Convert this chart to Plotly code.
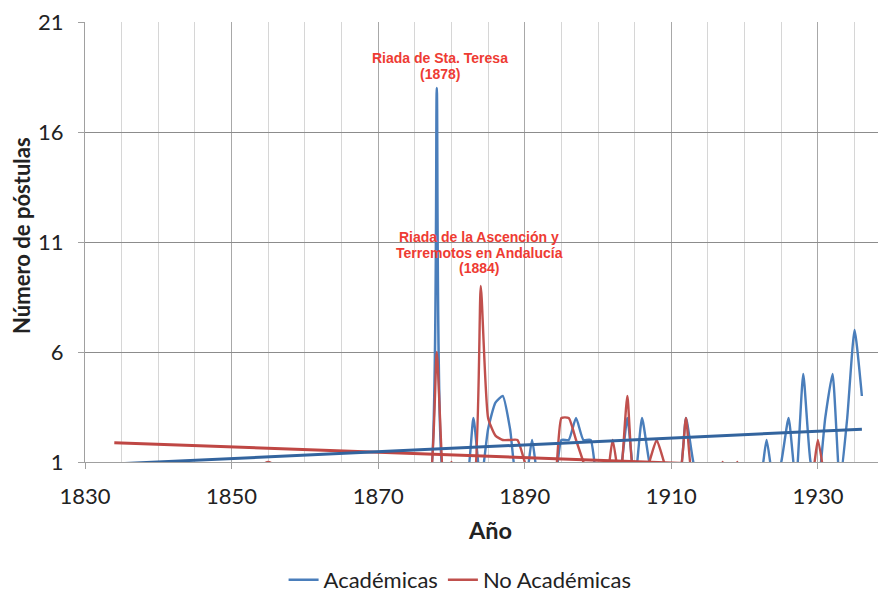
import plotly.graph_objects as go

# ---------------- data ----------------
acad_years = list(range(1876, 1937))
acad_values = [
    0, 0, 18, 0, 0, 0, 0, 3, 0, 2.5,      # 1876-1885
    3.7, 4, 2.5, 0, 0, 2, 0, 0, 0, 2,      # 1886-1895
    2, 3, 2, 2, 0, 0, 0, 0.5, 3, 0,        # 1896-1905
    3, 1, 0, 0, 0, 0, 3, 1, 0, 0,          # 1906-1915
    0, 0, 0, 0, 0, 0, 0, 2, 0, 1,          # 1916-1925
    3, 0, 5, 1, 0, 3, 5, 0, 3, 7,          # 1926-1935
    4,                                     # 1936
]

noacad_years = [1834, 1850, 1855, 1860] + list(range(1876, 1932))
noacad_values = [
    0, 0, 1, 0,
    0, 0, 6, 0, 1, 0, 0, 0, 9, 3,          # 1876-1885
    2.2, 2, 2, 2, 1, 0, 0, 0, 0, 3,        # 1886-1895
    3, 2, 1, 0, 0, 0, 2, 0, 4, 0,          # 1896-1905
    0, 1, 2, 1, 0, 0, 3, 0, 0, 0,          # 1906-1915
    0, 1, 0, 1, 0, 0, 0, 0, 0, 0,          # 1916-1925
    0, 0, 0, 0, 2, 0,                      # 1926-1931
]

# linear trendlines (end values)
acad_trend_years = [1834, 1936]
acad_trend_values = [0.91, 2.49]
noacad_trend_years = [1834, 1931]
noacad_trend_values = [1.88, 0.70]

x_ticks = [1830, 1850, 1870, 1890, 1910, 1930]
y_ticks = [1, 6, 11, 16, 21]

label_1878 = ["Riada de Sta. Teresa", "(1878)"]
label_1884 = ["Riada de la Ascención y", "Terremotos en Andalucía", "(1884)"]

FONT = "Lato"
TXT = "#222222"
BLUE = "#4a7ebb"
RED = "#c0504d"
ANN_RED = "#ee3b33"
SMOOTH = 0.5

fig = go.Figure()
fig.add_trace(go.Scatter(
    x=acad_years, y=acad_values, mode="lines", name="Académicas",
    line=dict(color=BLUE, width=2.4, shape="spline", smoothing=SMOOTH)))
fig.add_trace(go.Scatter(
    x=noacad_years, y=noacad_values, mode="lines", name="No Académicas",
    line=dict(color=RED, width=2.4, shape="spline", smoothing=SMOOTH)))
fig.add_trace(go.Scatter(
    x=noacad_trend_years, y=noacad_trend_values, mode="lines", showlegend=False,
    line=dict(color="#bf4744", width=3)))
fig.add_trace(go.Scatter(
    x=acad_trend_years, y=acad_trend_values, mode="lines", showlegend=False,
    line=dict(color="#33649e", width=3)))

fig.update_layout(
    width=881, height=592,
    margin=dict(l=85, r=3, t=22, b=130),
    paper_bgcolor="white", plot_bgcolor="white",
    font=dict(family=FONT, size=22, color=TXT),
    showlegend=True,
    legend=dict(orientation="h", x=0.473, xanchor="center",
                yref="container", y=12 / 592, yanchor="middle",
                font=dict(size=22, family=FONT, color=TXT),
                itemwidth=30, tracegroupgap=0),
)

fig.update_xaxes(
    range=[1830, 1938.2], tickvals=x_ticks, ticktext=[str(v) for v in x_ticks],
    showgrid=True, gridcolor="#a8a8a8", gridwidth=1,
    minor=dict(dtick=5, tick0=1830, showgrid=True, gridcolor="#d6d6d6", gridwidth=1),
    showline=True, linecolor="#a0a0a0", linewidth=1,
    ticks="outside", ticklen=6, tickcolor="#a0a0a0",
    ticklabelstandoff=9,
    tickfont=dict(size=22, family=FONT, color=TXT),
    zeroline=False,
)
fig.update_yaxes(
    range=[1, 21], tickvals=y_ticks, ticktext=[str(v) for v in y_ticks],
    showgrid=True, gridcolor="#8c8c8c", gridwidth=1,
    showline=True, linecolor="#a0a0a0", linewidth=1,
    ticks="outside", ticklen=6, tickcolor="#a0a0a0",
    ticklabelstandoff=10,
    tickfont=dict(size=22, family=FONT, color=TXT),
    zeroline=False,
)

# axis titles
fig.add_annotation(text="<b>Año</b>", xref="paper", yref="paper",
                   x=0.511, y=-0.155, xanchor="center", yanchor="middle",
                   showarrow=False, font=dict(size=23.5, family=FONT, color=TXT))
fig.add_annotation(text="<b>Número de póstulas</b>", xref="paper", yref="paper",
                   x=-0.0794, y=0.514, xanchor="center", yanchor="middle",
                   textangle=-90, showarrow=False,
                   font=dict(size=22, family=FONT, color=TXT))

# event labels (one annotation per line to keep the tight line spacing)
for i, line in enumerate(label_1878):
    fig.add_annotation(text=f"<b>{line}</b>", x=1878.4, y=19.35 - i * 0.7,
                       xref="x", yref="y", xanchor="center", yanchor="middle",
                       showarrow=False,
                       font=dict(size=14, family="Liberation Sans", color=ANN_RED))
for i, line in enumerate(label_1884):
    fig.add_annotation(text=f"<b>{line}</b>", x=1883.8, y=11.23 - i * 0.71,
                       xref="x", yref="y", xanchor="center", yanchor="middle",
                       showarrow=False,
                       font=dict(size=14, family="Liberation Sans", color=ANN_RED))

fig.write_html("out.html", config={"displayModeBar": False},
               post_script="document.body.style.margin='0px';")
